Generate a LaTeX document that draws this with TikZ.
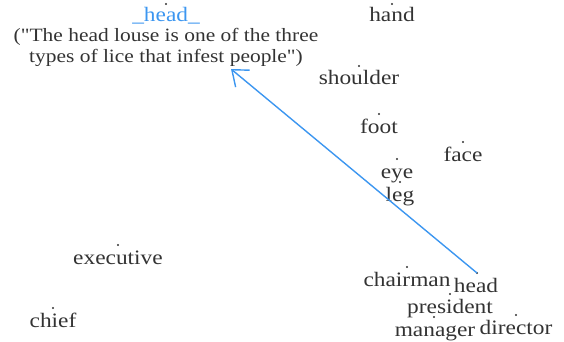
\documentclass[tikz,border=0pt]{standalone}
\usepackage{fontspec}
\setmainfont{Liberation Serif}
\usetikzlibrary{arrows.meta}

\definecolor{wordgray}{RGB}{51,51,51}
\definecolor{hlblue}{RGB}{60,150,240}

% the word labels are set a little wider than high
\newcommand{\wtext}[1]{\scalebox{1.14}[1]{#1}}

\tikzset{
	word/.style={anchor=base, inner sep=0pt, text=wordgray, font=\fontsize{20.5}{21}\selectfont},
	pt/.style={fill=wordgray},
}

\begin{document}
\begin{tikzpicture}[x=1pt, y=-1pt]%, show background rectangle]
	\useasboundingbox (0,0) rectangle (564,342);

	\fill[pt] (166,4) circle (1.1);
	\node[word, text=hlblue] (headlbl) at (166,22) {\wtext{\_head\_}};
	\node[anchor=base, inner sep=0pt, text=wordgray, font=\fontsize{18.8}{21}\selectfont] (note) at (166,62.5)
		{\wtext{\begin{tabular}[b]{@{}c@{}}(\textquotedbl The head louse is one of the three\\types of lice that infest people\textquotedbl)\end{tabular}}};

	\fill[pt] (392,4) circle (1.1);
	\node[word] (hand) at (392,22) {\wtext{hand}};
	\fill[pt] (359,66) circle (1.1);
	\node[word] (shoulder) at (359,85) {\wtext{shoulder}};
	\fill[pt] (379,114) circle (1.1);
	\node[word] (foot) at (379,133) {\wtext{foot}};
	\fill[pt] (463,142) circle (1.1);
	\node[word] (face) at (463,161) {\wtext{face}};
	\fill[pt] (397,159) circle (1.1);
	\node[word] (eye) at (397,178) {\wtext{eye}};
	\fill[pt] (400,182) circle (1.1);
	\node[word] (leg) at (400,201) {\wtext{leg}};

	\fill[pt] (118,245) circle (1.1);
	\node[word] (executive) at (118,264) {\wtext{executive}};
	\fill[pt] (53,308) circle (1.1);
	\node[word] (chief) at (53,327) {\wtext{chief}};

	\fill[pt] (407,267) circle (1.1);
	\node[word] (chairman) at (407,286) {\wtext{chairman}};
	\coordinate (p-head) at (477,273);
	\fill[pt] (p-head) circle (1.1);
	\node[word] (head) at (476,292) {\wtext{head}};
	\fill[pt] (450,294) circle (1.1);
	\node[word] (president) at (450,313) {\wtext{president}};
	\fill[pt] (434,317) circle (1.1);
	\node[word] (manager) at (435,336) {\wtext{manager}};
	\fill[pt] (516,315) circle (1.1);
	\node[word] (director) at (516,334.5) {\wtext{director}};

	% pointer from the word to its sense
	\coordinate (tip) at (231,69);
	\draw[hlblue, line width=1.4pt, -{Straight Barb[length=14pt, width=22pt]}] (p-head) -- (tip);
\end{tikzpicture}
\end{document}
